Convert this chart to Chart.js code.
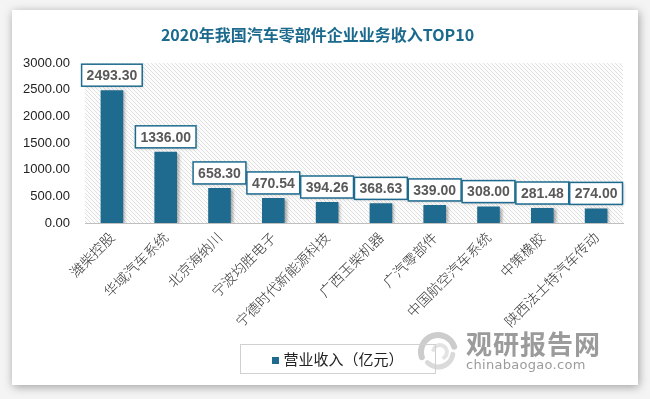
<!DOCTYPE html>
<html>
<head>
<meta charset="utf-8">
<script src="https://cdn.jsdelivr.net/npm/chart.js@4"></script>
<style>
	html, body { margin: 0; padding: 0; background: #f4f4f4; }
	#wrap { position: relative; width: 650px; height: 399px; overflow: hidden; }
	#card { position: absolute; left: 12px; top: 10px; width: 626px; height: 375px; background: #fff; box-shadow: 1px 2px 9px rgba(0, 0, 0, 0.35); }
	#chart { position: absolute; left: 0; top: 0; }
	#legend { position: absolute; left: 240px; top: 344px; width: 194px; height: 28px; border: 1px solid #d0d0d0; font: 15px "Noto Sans CJK SC"; color: #222; line-height: 28px; text-align: center; }
	#legend i { display: inline-block; width: 7px; height: 7px; background: #1e6b8f; margin-right: 4px; vertical-align: 1px; }
	#mark { position: absolute; left: 466px; top: 328px; color: #8a8a8a; opacity: 0.85; }
	#mark b { display: block; font: bold 26px "Noto Sans CJK SC"; letter-spacing: 1px; line-height: 30px; }
	#mark span { display: block; font: 13px "DejaVu Sans"; line-height: 14px; letter-spacing: 0.3px; }
</style>
</head>
<body>
<div id="wrap">
	<div id="card"></div>
	<canvas id="chart" width="650" height="399"></canvas>
	<div id="legend"><i></i>营业收入（亿元）</div>
	<div id="mark"><b>观研报告网</b><span>chinabaogao.com</span></div>
</div>
<script>
const categories = ['潍柴控股', '华域汽车系统', '北京海纳川', '宁波均胜电子', '宁德时代新能源科技', '广西玉柴机器', '广汽零部件', '中国航空汽车系统', '中策橡胶', '陕西法士特汽车传动'];
const revenue = [2493.30, 1336.00, 658.30, 470.54, 394.26, 368.63, 339.00, 308.00, 281.48, 274.00];
const yTicks = [0, 500, 1000, 1500, 2000, 2500, 3000];

const barColor = '#1e6b8f';

// 斜线底纹
function hatchPattern(ctx) {
	const s = 4;
	const tile = document.createElement('canvas');
	tile.width = s;
	tile.height = s;
	const t = tile.getContext('2d');
	t.fillStyle = '#fcfcfc';
	t.fillRect(0, 0, s, s);
	t.strokeStyle = '#e0e0e0';
	t.lineWidth = 1;
	[-s, 0, s].forEach((c) => {
		t.beginPath();
		t.moveTo(0, c);
		t.lineTo(s, s + c);
		t.stroke();
	});
	return ctx.createPattern(tile, 'repeat');
}

const plotBackground = {
	id: 'plotBackground',
	beforeDraw(chart) {
		const { ctx, chartArea: a } = chart;
		ctx.save();
		ctx.fillStyle = hatchPattern(ctx);
		ctx.fillRect(a.left, a.top, a.right - a.left, a.bottom - a.top);
		ctx.restore();
	}
};

const barShadow = {
	id: 'barShadow',
	beforeDatasetDraw(chart) {
		const ctx = chart.ctx;
		ctx.save();
		ctx.shadowColor = 'rgba(0,0,0,0.35)';
		ctx.shadowBlur = 3;
		ctx.shadowOffsetX = 2;
		ctx.shadowOffsetY = 1;
	},
	afterDatasetDraw(chart) {
		chart.ctx.restore();
	}
};

// 数据标签
const valueLabels = {
	id: 'valueLabels',
	afterDatasetsDraw(chart) {
		const ctx = chart.ctx;
		const meta = chart.getDatasetMeta(0);
		ctx.save();
		ctx.font = 'bold 14px "Liberation Sans"';
		ctx.textAlign = 'center';
		ctx.textBaseline = 'middle';
		meta.data.forEach((bar, i) => {
			const text = revenue[i].toFixed(2);
			const w = ctx.measureText(text).width + 10;
			const h = 22;
			const x = bar.x - w / 2;
			const y = bar.y - 4 - h;
			ctx.shadowColor = 'rgba(0,0,0,0.25)';
			ctx.shadowBlur = 3;
			ctx.shadowOffsetX = 1;
			ctx.shadowOffsetY = 1;
			ctx.fillStyle = '#fff';
			ctx.fillRect(x, y, w, h);
			ctx.shadowColor = 'transparent';
			ctx.strokeStyle = barColor;
			ctx.lineWidth = 1.5;
			ctx.strokeRect(x, y, w, h);
			ctx.fillStyle = '#595959';
			ctx.fillText(text, bar.x, y + h / 2 + 1);
		});
		ctx.restore();
	}
};

// 水印图标
const logo = {
	id: 'logo',
	afterDraw(chart) {
		const ctx = chart.ctx;
		ctx.save();
		ctx.globalAlpha = 0.5;
		ctx.lineCap = 'round';
		ctx.strokeStyle = '#9a9a9a';
		ctx.lineWidth = 6;
		ctx.beginPath();
		ctx.arc(438, 352, 17, Math.PI * 0.9, Math.PI * 1.9);
		ctx.stroke();
		ctx.strokeStyle = '#b5b5b5';
		ctx.lineWidth = 5;
		ctx.beginPath();
		ctx.arc(438, 352, 15, Math.PI * 0.05, Math.PI * 0.75);
		ctx.stroke();
		ctx.strokeStyle = '#c8c8c8';
		ctx.lineWidth = 4;
		ctx.beginPath();
		ctx.arc(440, 352, 7, Math.PI * 1.1, Math.PI * 2.3);
		ctx.stroke();
		ctx.restore();
	}
};

const config = {
	type: 'bar',
	data: {
		labels: categories,
		datasets: [{
			label: '营业收入（亿元）',
			data: revenue,
			backgroundColor: barColor,
			barPercentage: 0.42,
			categoryPercentage: 1
		}]
	},
	options: {
		responsive: false,
		animation: false,
		layout: {
			padding: { left: 12, right: 27, top: 25, bottom: 0 }
		},
		plugins: {
			legend: { display: false },
			tooltip: { enabled: false },
			title: {
				display: true,
				text: '2020年我国汽车零部件企业业务收入TOP10',
				color: '#1b6a8d',
				font: { family: '"Noto Sans CJK SC"', size: 16, weight: 'bold' },
				padding: { top: 0, bottom: 19 }
			}
		},
		scales: {
			x: {
				grid: { display: false, drawTicks: false },
				border: { display: true, color: '#bfbfbf', width: 1 },
				ticks: {
					minRotation: 45,
					maxRotation: 45,
					padding: 6,
					color: '#333',
					font: { family: '"Noto Sans CJK SC"', size: 14, weight: '300' }
				},
				afterFit(scale) { scale.height = 176; }
			},
			y: {
				min: 0,
				max: 3000,
				grid: { display: false, drawTicks: false },
				border: { display: false },
				afterBuildTicks(scale) { scale.ticks = yTicks.map((v) => ({ value: v })); },
				ticks: {
					padding: 15,
					color: '#222',
					font: { family: '"Liberation Sans"', size: 13 },
					callback: (v) => Number(v).toFixed(2)
				},
				afterFit(scale) { scale.width = 73; }
			}
		}
	},
	plugins: [plotBackground, barShadow, valueLabels, logo]
};

new Chart(document.getElementById('chart'), config);
</script>
</body>
</html>
